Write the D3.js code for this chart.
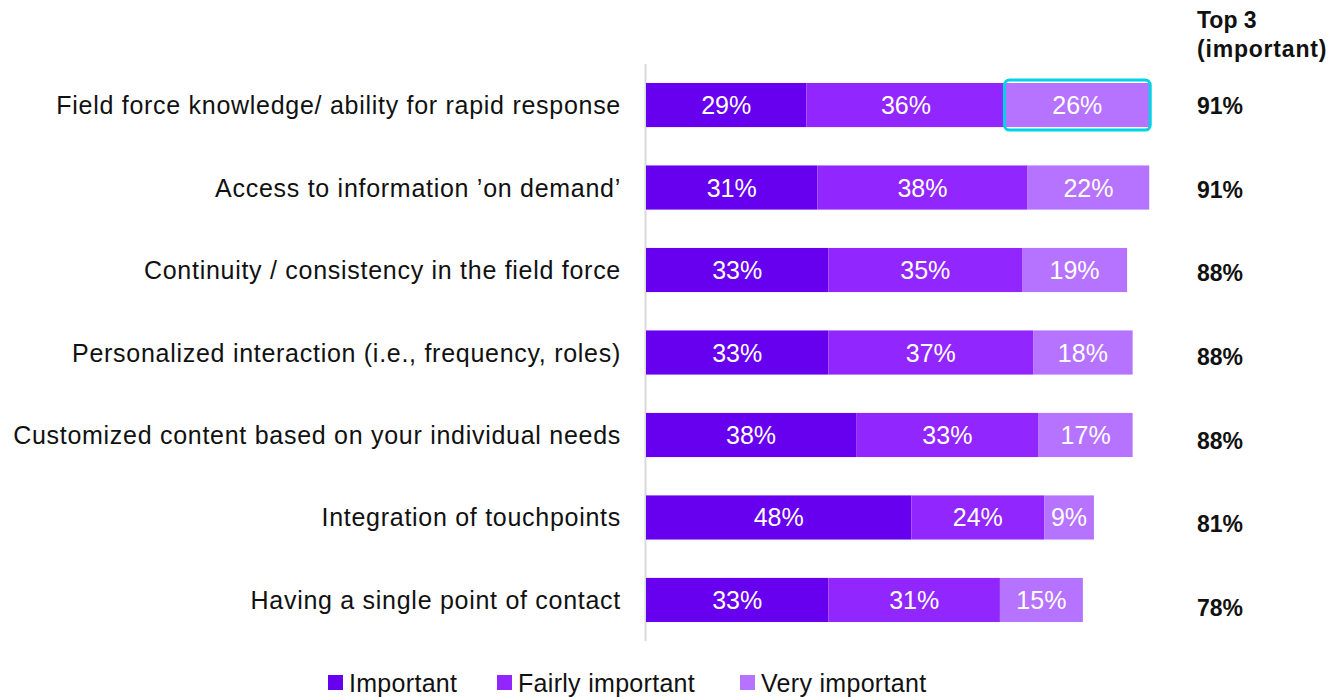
<!DOCTYPE html>
<html>
<head>
<meta charset="utf-8">
<script src="https://cdn.jsdelivr.net/npm/d3@7"></script>
<style>
  body { margin: 0; background: #fff; }
  text { font-family: "Liberation Sans", Arial, sans-serif; }
</style>
</head>
<body>
<svg></svg>
<script>
const categories = [
  "Field force knowledge/ ability for rapid response",
  "Access to information \u2019on demand\u2019",
  "Continuity / consistency in the field force",
  "Personalized interaction (i.e., frequency, roles)",
  "Customized content based on your individual needs",
  "Integration of touchpoints",
  "Having a single point of contact"
]
const seriesNames = ["Important", "Fairly important", "Very important"]
const important = [29, 31, 33, 33, 38, 48, 33]
const fairly = [36, 38, 35, 37, 33, 24, 31]
const very = [26, 22, 19, 18, 17, 9, 15]
const top3 = ["91%", "91%", "88%", "88%", "88%", "81%", "78%"]

const colors = ["#6600ee", "#9226ff", "#b673ff"]

const width = 1337, height = 697

let svg = d3.select("svg")
    .attr("width", width)
    .attr("height", height)

const x = d3.scaleLinear().domain([0, 100]).range([646, 1199])
const y = d3.scaleBand().domain(categories).range([64, 641]).paddingInner(0.465).paddingOuter(0.23)
const yTop = d3.scalePoint().domain(categories).range([105, 607])

// rows of stacked data
const rows = categories.map((c, i) => ({cat: c, vals: [important[i], fairly[i], very[i]]}))
const stack = d3.stack().keys([0, 1, 2]).value((d, k) => d.vals[k])
const stacked = stack(rows)

// axis line
svg.append("line")
    .attr("x1", 645.5).attr("x2", 645.5)
    .attr("y1", 64).attr("y2", 641)
    .attr("stroke", "#d9d9d9")
    .attr("stroke-width", 2)

const layers = svg.selectAll("g.layer")
    .data(stacked)
    .enter()
    .append("g")
    .attr("class", "layer")
    .attr("fill", (d, i) => colors[i])

layers.selectAll("rect")
    .data(d => d)
    .enter()
    .append("rect")
    .attr("x", d => x(d[0]))
    .attr("y", d => y(d.data.cat))
    .attr("width", d => x(d[1]) - x(d[0]))
    .attr("height", y.bandwidth())

layers.selectAll("text")
    .data(d => d)
    .enter()
    .append("text")
    .attr("x", d => (x(d[0]) + x(d[1])) / 2)
    .attr("y", d => y(d.data.cat) + y.bandwidth() / 2 + 9)
    .attr("text-anchor", "middle")
    .attr("fill", "#fff")
    .style("font-size", "25px")
    .text(d => (d[1] - d[0]) + "%")

// highlight box around first "very important" segment
const hl = stacked[2][0]
svg.append("rect")
    .attr("x", x(hl[0]) - 1)
    .attr("y", y(hl.data.cat) - 3)
    .attr("width", x(hl[1]) - x(hl[0]) + 2)
    .attr("height", y.bandwidth() + 6)
    .attr("rx", 5)
    .attr("fill", "none")
    .attr("stroke", "#00d3e4")
    .attr("stroke-width", 3)

// category labels
svg.selectAll("text.cat")
    .data(categories)
    .enter()
    .append("text")
    .attr("class", "cat")
    .attr("x", 621)
    .attr("y", d => y(d) + y.bandwidth() / 2 + 9)
    .attr("text-anchor", "end")
    .attr("fill", "#111")
    .style("font-size", "25px")
    .style("letter-spacing", "0.72px")
    .text(d => d)

// top 3 column
svg.append("text").attr("x", 1197).attr("y", 28)
    .style("font-size", "23px").style("font-weight", "bold").attr("fill", "#111")
    .text("Top 3")
svg.append("text").attr("x", 1197).attr("y", 57)
    .style("font-size", "23px").style("font-weight", "bold").attr("fill", "#111")
    .style("letter-spacing", "0.8px")
    .text("(important)")

svg.selectAll("text.top")
    .data(categories)
    .enter()
    .append("text")
    .attr("class", "top")
    .attr("x", 1197)
    .attr("y", d => yTop(d) + 9)
    .style("font-size", "23px")
    .style("font-weight", "bold")
    .attr("fill", "#111")
    .text((d, i) => top3[i])

// legend
const legendX = [328, 497, 740]
const legend = svg.selectAll("g.legend")
    .data(seriesNames)
    .enter()
    .append("g")
    .attr("class", "legend")
    .attr("transform", (d, i) => `translate(${legendX[i]},0)`)

legend.append("rect")
    .attr("x", 0).attr("y", 675)
    .attr("width", 15).attr("height", 15)
    .attr("fill", (d, i) => colors[i])

legend.append("text")
    .attr("x", 21).attr("y", 692)
    .style("font-size", "25px")
    .style("letter-spacing", "0.3px")
    .attr("fill", "#111")
    .text(d => d)
</script>
</body>
</html>
